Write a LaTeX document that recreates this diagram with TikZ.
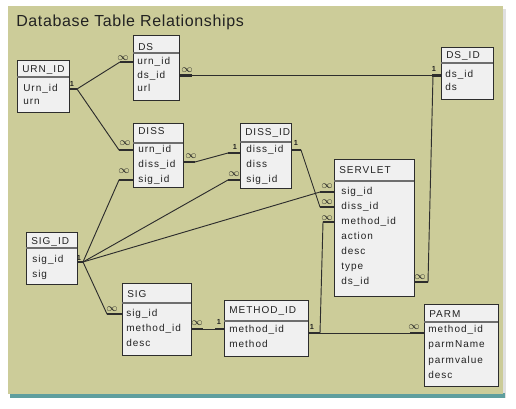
\documentclass[tikz,border=0pt]{standalone}
\usepackage{fontspec}
\setmainfont{Liberation Sans}
\newfontfamily\boxfont{Liberation Sans}[LetterSpace=10]
\newfontfamily\titlefont{Liberation Sans}[LetterSpace=4]
\usetikzlibrary{calc,fit}
\definecolor{panelbg}{RGB}{204,204,153}
\definecolor{stripc}{RGB}{95,158,158}
\definecolor{boxfill}{RGB}{240,240,240}
\definecolor{linec}{RGB}{45,45,45}
\definecolor{textc}{RGB}{34,34,34}
\definecolor{sepc}{RGB}{110,110,110}
\tikzset{
  tblbox/.style={draw=linec,fill=boxfill,line width=0.75pt,inner sep=0pt,outer sep=0pt},
  sepline/.style={draw=sepc,line width=1.4pt},
  hdr/.style={anchor=west,inner sep=0pt,text=textc,font=\boxfont\fontsize{7.5}{9}\selectfont,text height=5.5pt,text depth=1.5pt},
  rowtxt/.style={anchor=west,inner sep=0pt,text=textc,font=\boxfont\fontsize{7.5}{9}\selectfont,text height=5.5pt,text depth=1.5pt},
  conn/.style={draw=linec,line width=0.7pt},
  stubline/.style={draw=linec,line width=1.6pt},
  lab/.style={inner sep=0pt,text=textc,font=\fontsize{5.5}{6}\selectfont\bfseries},
  inf/.style={inner sep=0pt,text=textc,font=\fontsize{8}{9}\selectfont},
}
\newcommand\tbl[8]{%
  \node[tblbox,fit={(#2,#3) (#4,#5)}] (#1) {};
  \draw[sepline] (#2,#6) -- (#4,#6);
  \node[hdr] (#1-h) at ({#2+5},#7) {#8};
}
\newcommand\rows[5]{%
  \foreach \rowtext [count=\ri] in {#5}
    \node[rowtxt] (#1-\ri) at (#2,{#3+#4*(\ri-1)}) {\rowtext};
}
\newcommand\stub[2]{\draw[stubline] (#1) -- ++(#2,0);}
\begin{document}
\begin{tikzpicture}[x=0.75pt,y=-0.75pt]
\useasboundingbox (0,0) rectangle (516,409);
\fill[white] (0,0) rectangle (516,409);
\fill[black!12] (11,9) rectangle (506,398);
\fill[stripc] (10,393) rectangle (505,398);
\fill[panelbg] (8,6) rectangle (503,394);
\node[anchor=base west,inner sep=0pt,text=textc,font=\titlefont\fontsize{12}{14}\selectfont] (title) at (16,26.5) {Database Table Relationships};

% tables
\tbl{urn}{17}{61}{69}{113}{77}{70}{URN\_ID}
\rows{urn}{23}{89}{13}{Urn\_id,urn}
\tbl{ds}{133}{36}{179}{101}{53}{48}{DS}
\rows{ds}{137}{62}{13.5}{urn\_id,ds\_id,url}
\tbl{dsid}{441}{48}{493}{100}{63}{56}{DS\_ID}
\rows{dsid}{445}{75}{13}{ds\_id,ds}
\tbl{diss}{133}{124}{183}{188}{143}{132}{DISS}
\rows{diss}{138}{150}{15}{urn\_id,diss\_id,sig\_id}
\tbl{dissid}{240}{124}{291}{189}{142}{132.5}{DISS\_ID}
\rows{dissid}{246}{150}{15}{diss\_id,diss,sig\_id}
\tbl{srv}{334}{160}{414}{296}{181}{170.5}{SERVLET}
\rows{srv}{341}{192}{15}{sig\_id,diss\_id,method\_id,action,desc,type,ds\_id}
\tbl{sigid}{26}{232}{77}{284}{248}{242}{SIG\_ID}
\rows{sigid}{32}{260}{15}{sig\_id,sig}
\tbl{sig}{122}{283}{191}{355}{303}{295}{SIG}
\rows{sig}{126}{314}{15}{sig\_id,method\_id,desc}
\tbl{mid}{224}{300}{308}{356}{321}{310.5}{METHOD\_ID}
\rows{mid}{229}{330}{15}{method\_id,method}
\tbl{parm}{424}{304}{498}{386}{322}{315}{PARM}
\rows{parm}{428}{330}{15.3}{method\_id,parmName,parmvalue,desc}

% URN_ID -> DS, DISS
\coordinate (ju) at ($(urn.east |- urn-1)+(8,0)$);
\draw[conn] (urn.east |- urn-1) -- (ju) -- ($(ds.west |- ds-1)+(-13,0)$) -- (ds.west |- ds-1);
\draw[conn] (ju) -- ($(diss.west |- diss-1)+(-14,0)$) -- (diss.west |- diss-1);
\stub{urn.east |- urn-1}{8}
\stub{ds.west |- ds-1}{-13}
\stub{diss.west |- diss-1}{-14}

% DS -> DS_ID
\draw[conn] (ds.east |- ds-2) -- (dsid.west |- ds-2);
\stub{ds.east |- ds-2}{13}
\stub{dsid.west |- ds-2}{-9}

% DS_ID -> SERVLET ds_id
\coordinate (jd) at ($(dsid.west |- ds-2)+(-8,0)$);
\draw[conn] (jd) -- ($(srv.east |- srv-7)+(14,0)$) -- (srv.east |- srv-7);
\stub{srv.east |- srv-7}{14}

% DISS -> DISS_ID
\draw[conn] ($(diss.east |- diss-2)+(0,-3)$) -- ++(12,0) -- ($(dissid.west |- dissid-1)+(-12,3)$) -- ($(dissid.west |- dissid-1)+(0,3)$);
\stub{$(diss.east |- diss-2)+(0,-3)$}{12}
\stub{$(dissid.west |- dissid-1)+(0,3)$}{-12}

% DISS_ID -> SERVLET diss_id
\draw[conn] (dissid.east |- dissid-1) -- ++(10,0) -- ($(srv.west |- srv-2)+(-14,0)$) -- (srv.west |- srv-2);
\stub{dissid.east |- dissid-1}{10}
\stub{srv.west |- srv-2}{-14}

% SIG_ID -> DISS, DISS_ID, SERVLET, SIG
\coordinate (js) at ($(sigid.east |- sigid-1)+(6,2)$);
\draw[conn] ($(sigid.east |- sigid-1)+(0,2)$) -- (js);
\stub{$(sigid.east |- sigid-1)+(0,2)$}{6}
\draw[conn] (js) -- ($(diss.west |- diss-3)+(-14,0)$) -- (diss.west |- diss-3);
\draw[conn] (js) -- ($(dissid.west |- dissid-3)+(-12,0)$) -- (dissid.west |- dissid-3);
\draw[conn] (js) -- ($(srv.west |- srv-1)+(-14,0)$) -- (srv.west |- srv-1);
\draw[conn] (js) -- ($(sig.west |- sig-1)+(-15,0)$) -- (sig.west |- sig-1);
\stub{diss.west |- diss-3}{-14}
\stub{dissid.west |- dissid-3}{-12}
\stub{srv.west |- srv-1}{-14}
\stub{sig.west |- sig-1}{-15}

% SIG -> METHOD_ID
\draw[conn] (sig.east |- sig-2) -- (mid.west |- sig-2);
\stub{sig.east |- sig-2}{12}
\stub{mid.west |- sig-2}{-9}

% METHOD_ID -> SERVLET method_id, PARM
\coordinate (jm) at ($(mid.east |- mid-1)+(12,3)$);
\draw[conn] ($(mid.east |- mid-1)+(0,3)$) -- (jm) -- ($(srv.west |- srv-3)+(-11,0)$) -- (srv.west |- srv-3);
\stub{$(mid.east |- mid-1)+(0,3)$}{12}
\stub{srv.west |- srv-3}{-11}
\draw[conn] ($(mid.east |- mid-1)+(0,3)$) -- ($(parm.west |- mid-1)+(0,3)$);
\stub{$(parm.west |- mid-1)+(0,3)$}{-14}

% cardinality labels
\node[lab] (l1) at (72,84) {1};
\node[inf] (l2) at (123,58) {$\infty$};
\node[inf] (l3) at (125,143) {$\infty$};
\node[inf] (l4) at (187,70) {$\infty$};
\node[lab] (l5) at (434,69) {1};
\node[inf] (l6) at (420,277) {$\infty$};
\node[inf] (l7) at (191,156) {$\infty$};
\node[lab] (l8) at (235,147) {1};
\node[lab] (l9) at (296,143) {1};
\node[inf] (l10) at (327,202) {$\infty$};
\node[inf] (l11) at (124,171) {$\infty$};
\node[inf] (l12) at (234,174) {$\infty$};
\node[inf] (l13) at (327,186) {$\infty$};
\node[lab] (l14) at (79,258) {1};
\node[inf] (l15) at (112,309) {$\infty$};
\node[inf] (l16) at (197,323) {$\infty$};
\node[lab] (l17) at (219,322) {1};
\node[lab] (l18) at (312,327) {1};
\node[inf] (l19) at (327,218) {$\infty$};
\node[inf] (l20) at (414,327) {$\infty$};
\end{tikzpicture}
\end{document}
